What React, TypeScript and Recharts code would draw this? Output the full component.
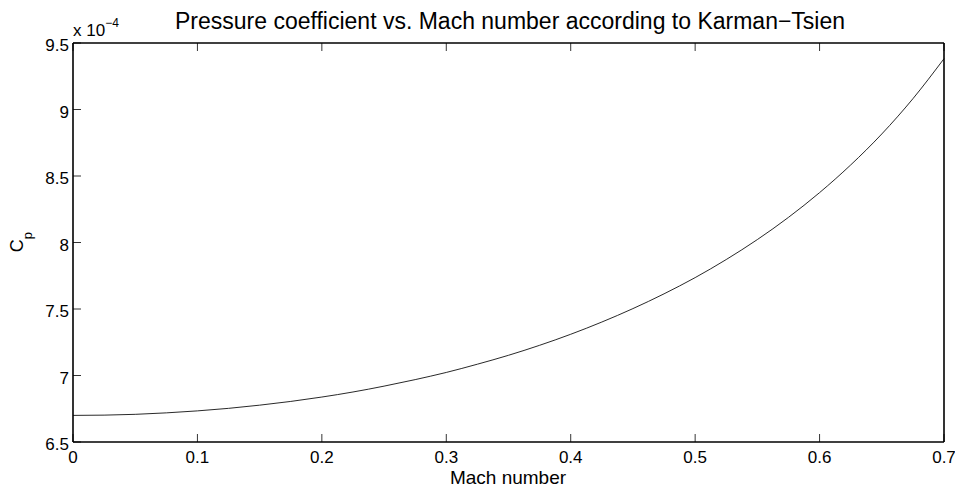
import React from "react";
import { LineChart, Line, XAxis, YAxis, Customized } from "recharts";

// Mach number samples and pressure coefficient (in units of 1e-4)
const machNumbers = [
  0, 0.025, 0.05, 0.075, 0.1, 0.125, 0.15, 0.175, 0.2, 0.225, 0.25, 0.275, 0.3,
  0.325, 0.35, 0.375, 0.4, 0.425, 0.45, 0.475, 0.5, 0.525, 0.55, 0.575, 0.6,
  0.625, 0.65, 0.675, 0.7,
];
const pressureCoeff = [
  6.7, 6.702, 6.708, 6.719, 6.734, 6.753, 6.777, 6.805, 6.838, 6.876, 6.92,
  6.969, 7.023, 7.085, 7.152, 7.227, 7.31, 7.402, 7.503, 7.614, 7.736, 7.872,
  8.022, 8.189, 8.375, 8.583, 8.816, 9.081, 9.382,
];

const xTicks = [0, 0.1, 0.2, 0.3, 0.4, 0.5, 0.6, 0.7];
const yTicks = [6.5, 7, 7.5, 8, 8.5, 9, 9.5];
const xDomain: [number, number] = [0, 0.7];
const yDomain: [number, number] = [6.5, 9.5];

const data = machNumbers.map((m, i) => ({ m, cp: pressureCoeff[i] }));

const FONT = "'Liberation Sans', Arial, Helvetica, sans-serif";
const TICK_LEN = 8;
const TICK_FONT = 17;

const fmt = (v: number) => String(Math.round(v * 10) / 10);

const BottomTick = (props: any) => {
  const { x, y, payload } = props;
  return (
    <g>
      <line x1={x} y1={y} x2={x} y2={y - TICK_LEN} stroke="#000" strokeWidth={0.8} />
      <text x={x} y={y + 21} textAnchor="middle" fontSize={TICK_FONT} fontFamily={FONT} fill="#000">
        {fmt(payload.value)}
      </text>
    </g>
  );
};

const TopTick = (props: any) => {
  const { x, y } = props;
  return <line x1={x} y1={y} x2={x} y2={y + TICK_LEN} stroke="#000" strokeWidth={0.8} />;
};

const LeftTick = (props: any) => {
  const { x, y, payload } = props;
  return (
    <g>
      <line x1={x} y1={y} x2={x + TICK_LEN} y2={y} stroke="#000" strokeWidth={0.8} />
      <text x={x - 4} y={y + 8} textAnchor="end" fontSize={TICK_FONT} fontFamily={FONT} fill="#000">
        {fmt(payload.value)}
      </text>
    </g>
  );
};

const RightTick = (props: any) => {
  const { x, y } = props;
  return <line x1={x} y1={y} x2={x - TICK_LEN} y2={y} stroke="#000" strokeWidth={0.8} />;
};

const Annotations = () => (
  <g fontFamily={FONT} fill="#000">
    <text x={510} y={29} textAnchor="middle" fontSize={23}>
      Pressure coefficient vs. Mach number according to Karman−Tsien
    </text>
    <text x={508} y={484} textAnchor="middle" fontSize={19}>
      Mach number
    </text>
    <text x={73} y={36} fontSize={17}>
      x 10
      <tspan dy={-9} fontSize={12}>
        −4
      </tspan>
    </text>
    <text x={23} y={242} textAnchor="middle" fontSize={18} transform="rotate(-90, 23, 242)">
      C
      <tspan dy={9} fontSize={13}>
        p
      </tspan>
    </text>
  </g>
);

const axisLine = { stroke: "#000", strokeWidth: 1.6 };

export default function App() {
  return (
    <div style={{ position: "absolute", left: 0, top: 0, width: 955, height: 488, background: "#fff" }}>
      <LineChart
        width={955}
        height={488}
        data={data}
        margin={{ top: 42, right: 10, bottom: 45, left: 72 }}
      >
        <XAxis
          dataKey="m"
          type="number"
          domain={xDomain}
          ticks={xTicks}
          height={1}
          tickSize={0}
          tickMargin={0}
          tickLine={false}
          tick={<BottomTick />}
          axisLine={axisLine}
          interval={0}
        />
        <XAxis
          xAxisId="top"
          orientation="top"
          dataKey="m"
          type="number"
          domain={xDomain}
          ticks={xTicks}
          height={1}
          tickSize={0}
          tickMargin={0}
          tickLine={false}
          tick={<TopTick />}
          axisLine={axisLine}
          interval={0}
        />
        <YAxis
          type="number"
          domain={yDomain}
          ticks={yTicks}
          width={1}
          tickSize={0}
          tickMargin={0}
          tickLine={false}
          tick={<LeftTick />}
          axisLine={axisLine}
          interval={0}
        />
        <YAxis
          yAxisId="right"
          orientation="right"
          type="number"
          domain={yDomain}
          ticks={yTicks}
          width={1}
          tickSize={0}
          tickMargin={0}
          tickLine={false}
          tick={<RightTick />}
          axisLine={axisLine}
          interval={0}
        />
        <Line
          type="monotone"
          dataKey="cp"
          stroke="#111"
          strokeWidth={0.9}
          dot={false}
          isAnimationActive={false}
        />
        <Customized component={Annotations} />
      </LineChart>
    </div>
  );
}
